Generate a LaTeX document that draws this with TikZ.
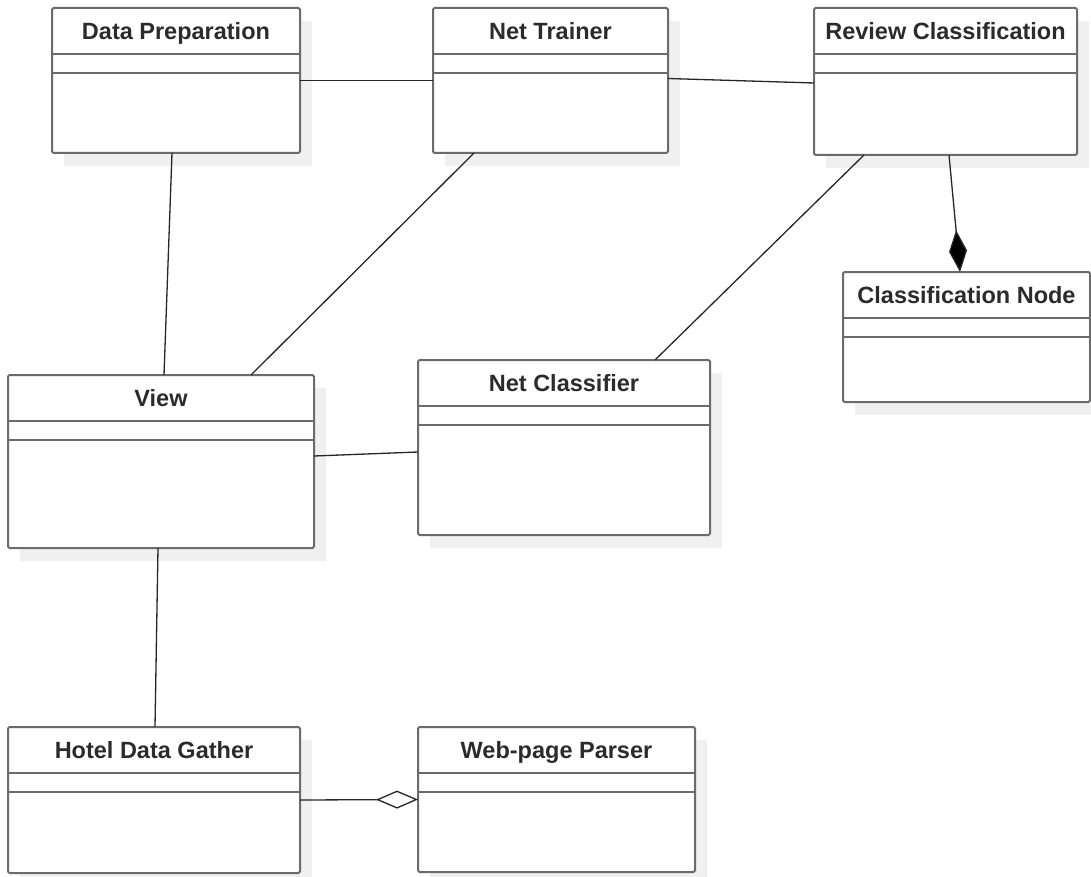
\documentclass[tikz,border=0pt]{standalone}
\usepackage{fontspec}
\setmainfont{Liberation Sans}
\usetikzlibrary{calc,arrows.meta}

\definecolor{boxline}{HTML}{6B6B6B}
\definecolor{shadowgray}{HTML}{F0F0F0}
\definecolor{textdark}{HTML}{2B2B2B}
\definecolor{linkdark}{HTML}{262626}

\tikzset{
  classbox/.style={draw=boxline, line width=2pt, fill=white, rounded corners=1.5pt,
    inner sep=0pt, outer sep=0pt},
  classtitle/.style={font=\fontsize{23.5}{26}\selectfont\bfseries, text=textdark,
    inner sep=0pt, anchor=base},
  divider/.style={draw=boxline, line width=2pt},
  shadowbox/.style={fill=shadowgray},
  assoc/.style={draw=linkdark, line width=1.3pt},
  composition/.style={assoc, -{Diamond[length=42pt, width=18pt, fill=black]}},
  aggregation/.style={assoc, -{Diamond[open, length=42pt, width=18pt, fill=white, line width=1.3pt]}}
}

% #1 node name, #2 left, #3 top, #4 width, #5 height, #6 class name
\newcommand{\umlclass}[6]{%
  \fill[shadowbox] (#2+12,#3+13) rectangle ++(#4,#5);
  \node[classbox, minimum width=#4pt, minimum height=#5pt, anchor=north west] (#1) at (#2,#3) {};
  \node[classtitle] (#1-title) at ($(#1.north)+(0,31.5)$) {#6};
  \draw[divider] ($(#1.north west)+(0,46)$) -- ($(#1.north east)+(0,46)$);
  \draw[divider] ($(#1.north west)+(0,65)$) -- ($(#1.north east)+(0,65)$);
}

\begin{document}
\begin{tikzpicture}[x=1pt,y=-1pt]
  \useasboundingbox[fill=white] (0,0) rectangle (1091,877);

  % classes
  \umlclass{dp}{52}{8}{248}{145}{Data Preparation}
  \umlclass{nt}{433}{8}{235}{145}{Net Trainer}
  \umlclass{rc}{814}{8}{263}{147}{Review Classification}
  \umlclass{cn}{843}{272}{247}{130}{Classification Node}
  \umlclass{view}{8}{375}{306}{173}{View}
  \umlclass{nc}{418}{360}{292}{175}{Net Classifier}
  \umlclass{hdg}{8}{727}{292}{146}{Hotel Data Gather}
  \umlclass{wpp}{418}{727}{277}{145}{Web-page Parser}

  % associations
  \draw[assoc] (dp.east) -- (nt.west);
  \draw[assoc] ([yshift=2pt]nt.east) -- ([yshift=-1.5pt]rc.west);
  \draw[assoc] ([xshift=-4pt]dp.south) -- ([xshift=3pt]view.north);
  \draw[assoc] ([xshift=-76.5pt]nt.south) -- ([xshift=90pt]view.north);
  \draw[assoc] ([xshift=-81.5pt]rc.south) -- ([xshift=91pt]nc.north);
  \draw[assoc] ([yshift=5.5pt]view.east) -- ([yshift=-4.5pt]nc.west);
  \draw[assoc] ([xshift=-3pt]view.south) -- ([xshift=1pt]hdg.north);

  % composition and aggregation
  \draw[composition] ([xshift=3.5pt]rc.south) -- ([xshift=-6.5pt]cn.north);
  \draw[aggregation] (hdg.east) -- (wpp.west);
\end{tikzpicture}
\end{document}
